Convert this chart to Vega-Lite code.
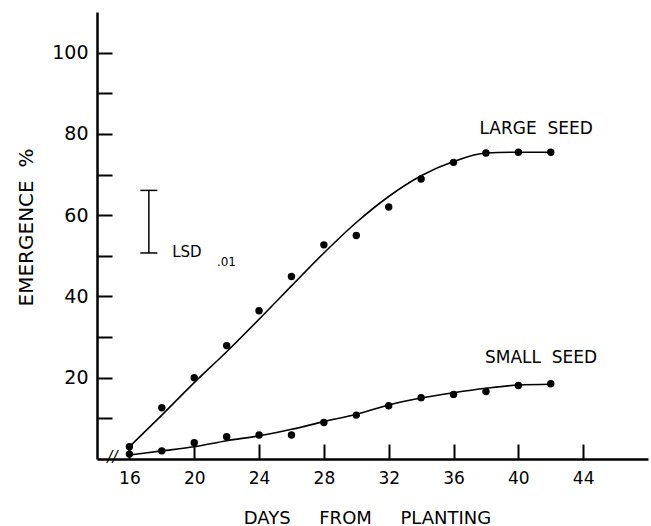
{
  "$schema": "https://vega.github.io/schema/vega-lite/v6.json",
  "width": 551,
  "height": 447,
  "autosize": {"type": "none"},
  "padding": {"left": 97, "top": 12, "right": 3, "bottom": 67},
  "background": "white",
  "config": {
    "view": {"stroke": null},
    "font": "DejaVu Sans",
    "axis": {
      "grid": false,
      "domainColor": "black",
      "tickColor": "black",
      "labelColor": "black",
      "titleColor": "black",
      "labelFont": "DejaVu Sans",
      "titleFont": "DejaVu Sans",
      "titleFontWeight": "normal"
    }
  },
  "datasets": {
    "obs": [
      {"series": "large", "day": 16, "value": 3.0},
      {"series": "large", "day": 18, "value": 12.6},
      {"series": "large", "day": 20, "value": 20.0},
      {"series": "large", "day": 22, "value": 27.9},
      {"series": "large", "day": 24, "value": 36.5},
      {"series": "large", "day": 26, "value": 44.9},
      {"series": "large", "day": 28, "value": 52.7},
      {"series": "large", "day": 30, "value": 55.0},
      {"series": "large", "day": 32, "value": 62.0},
      {"series": "large", "day": 34, "value": 68.9},
      {"series": "large", "day": 36, "value": 73.0},
      {"series": "large", "day": 38, "value": 75.3},
      {"series": "large", "day": 40, "value": 75.5},
      {"series": "large", "day": 42, "value": 75.5},
      {"series": "small", "day": 16, "value": 1.2},
      {"series": "small", "day": 18, "value": 2.0},
      {"series": "small", "day": 20, "value": 4.0},
      {"series": "small", "day": 22, "value": 5.5},
      {"series": "small", "day": 24, "value": 5.9},
      {"series": "small", "day": 26, "value": 5.9},
      {"series": "small", "day": 28, "value": 9.0},
      {"series": "small", "day": 30, "value": 10.8},
      {"series": "small", "day": 32, "value": 13.1},
      {"series": "small", "day": 34, "value": 15.1},
      {"series": "small", "day": 36, "value": 15.9},
      {"series": "small", "day": 38, "value": 16.6},
      {"series": "small", "day": 40, "value": 18.1},
      {"series": "small", "day": 42, "value": 18.5}
    ],
    "fit": [
      {"series": "large", "day": 16, "value": 3.0},
      {"series": "large", "day": 18, "value": 10.8},
      {"series": "large", "day": 20, "value": 18.8},
      {"series": "large", "day": 22, "value": 26.4},
      {"series": "large", "day": 24, "value": 34.4},
      {"series": "large", "day": 26, "value": 42.6},
      {"series": "large", "day": 28, "value": 50.7},
      {"series": "large", "day": 30, "value": 58.2},
      {"series": "large", "day": 32, "value": 64.6},
      {"series": "large", "day": 34, "value": 69.7},
      {"series": "large", "day": 36, "value": 73.2},
      {"series": "large", "day": 38, "value": 75.3},
      {"series": "large", "day": 40, "value": 75.5},
      {"series": "large", "day": 42, "value": 75.5},
      {"series": "small", "day": 16, "value": 1.0},
      {"series": "small", "day": 18, "value": 2.0},
      {"series": "small", "day": 20, "value": 3.0},
      {"series": "small", "day": 22, "value": 4.5},
      {"series": "small", "day": 24, "value": 5.7},
      {"series": "small", "day": 26, "value": 7.3},
      {"series": "small", "day": 28, "value": 9.2},
      {"series": "small", "day": 30, "value": 11.0},
      {"series": "small", "day": 32, "value": 13.3},
      {"series": "small", "day": 34, "value": 15.0},
      {"series": "small", "day": 36, "value": 16.3},
      {"series": "small", "day": 38, "value": 17.4},
      {"series": "small", "day": 40, "value": 18.2},
      {"series": "small", "day": 42, "value": 18.4}
    ],
    "lsd": [{"day": 17.2, "low": 50.7, "high": 66.1}],
    "lsdcaps": [{"day": 17.2, "value": 50.7}, {"day": 17.2, "value": 66.1}],
    "serieslabels": [
      {"day": 41.1, "value": 81.3, "text": "LARGE \u00a0SEED"},
      {"day": 41.4, "value": 24.9, "text": "SMALL \u00a0SEED"}
    ],
    "lsdlabel": [{"day": 18.64, "value": 51.0, "text": "LSD"}],
    "lsdsub": [{"day": 21.4, "value": 48.6, "text": ".01"}],
    "axisbreak": [{"day": 14.95, "value": 0.5, "text": "//"}]
  },
  "layer": [
    {
      "data": {"name": "fit"},
      "mark": {"type": "line", "interpolate": "monotone", "color": "black", "strokeWidth": 1.6},
      "encoding": {
        "x": {
          "field": "day",
          "type": "quantitative",
          "scale": {"domain": [14, 48], "nice": false, "zero": false},
          "axis": {
            "title": "DAYS \u00a0\u00a0\u00a0\u00a0FROM \u00a0\u00a0\u00a0\u00a0PLANTING",
            "values": [16, 18, 20, 22, 24, 26, 28, 30, 32, 34, 36, 38, 40, 42, 44, 46],
            "labelExpr": "datum.value % 4 == 0 ? datum.label : ''",
            "domainWidth": 2.5,
            "tickWidth": 2,
            "tickSize": -15,
            "labelFontSize": 17,
            "labelPadding": 26,
            "labelFlush": false,
            "labelOverlap": false,
            "titleFontSize": 18,
            "titleX": 270,
            "titleY": 64,
            "titleBaseline": "alphabetic"
          }
        },
        "y": {
          "field": "value",
          "type": "quantitative",
          "scale": {"domain": [0, 110], "nice": false},
          "axis": {
            "title": "EMERGENCE \u00a0%",
            "values": [10, 20, 30, 40, 50, 60, 70, 80, 90, 100],
            "labelExpr": "datum.value % 20 == 0 ? datum.label : ''",
            "domainWidth": 2.5,
            "tickWidth": 2,
            "tickSize": -15,
            "labelFontSize": 19,
            "labelPadding": 24,
            "labelFlush": false,
            "labelOverlap": false,
            "titleFontSize": 20,
            "titleAngle": -90,
            "titleX": -71,
            "titleY": 215,
            "titleBaseline": "middle",
            "titleAlign": "center"
          }
        },
        "detail": {"field": "series"}
      }
    },
    {
      "data": {"name": "obs"},
      "mark": {"type": "circle", "color": "black", "size": 55, "opacity": 1},
      "encoding": {
        "x": {"field": "day", "type": "quantitative"},
        "y": {"field": "value", "type": "quantitative"}
      }
    },
    {
      "data": {"name": "lsd"},
      "mark": {"type": "rule", "color": "black", "strokeWidth": 1.5},
      "encoding": {
        "x": {"field": "day", "type": "quantitative"},
        "y": {"field": "low", "type": "quantitative"},
        "y2": {"field": "high"}
      }
    },
    {
      "data": {"name": "lsdcaps"},
      "mark": {"type": "tick", "orient": "horizontal", "color": "black", "size": 17, "thickness": 1.5, "opacity": 1},
      "encoding": {
        "x": {"field": "day", "type": "quantitative"},
        "y": {"field": "value", "type": "quantitative"}
      }
    },
    {
      "data": {"name": "serieslabels"},
      "mark": {"type": "text", "fontSize": 17, "align": "center", "baseline": "middle", "color": "black"},
      "encoding": {
        "x": {"field": "day", "type": "quantitative"},
        "y": {"field": "value", "type": "quantitative"},
        "text": {"field": "text"}
      }
    },
    {
      "data": {"name": "lsdlabel"},
      "mark": {"type": "text", "fontSize": 15, "align": "left", "baseline": "middle", "color": "black"},
      "encoding": {
        "x": {"field": "day", "type": "quantitative"},
        "y": {"field": "value", "type": "quantitative"},
        "text": {"field": "text"}
      }
    },
    {
      "data": {"name": "lsdsub"},
      "mark": {"type": "text", "fontSize": 12, "align": "left", "baseline": "middle", "color": "black"},
      "encoding": {
        "x": {"field": "day", "type": "quantitative"},
        "y": {"field": "value", "type": "quantitative"},
        "text": {"field": "text"}
      }
    },
    {
      "data": {"name": "axisbreak"},
      "mark": {"type": "text", "fontSize": 15, "align": "center", "baseline": "middle", "color": "black", "fontStyle": "italic"},
      "encoding": {
        "x": {"field": "day", "type": "quantitative"},
        "y": {"field": "value", "type": "quantitative"},
        "text": {"field": "text"}
      }
    }
  ]
}
